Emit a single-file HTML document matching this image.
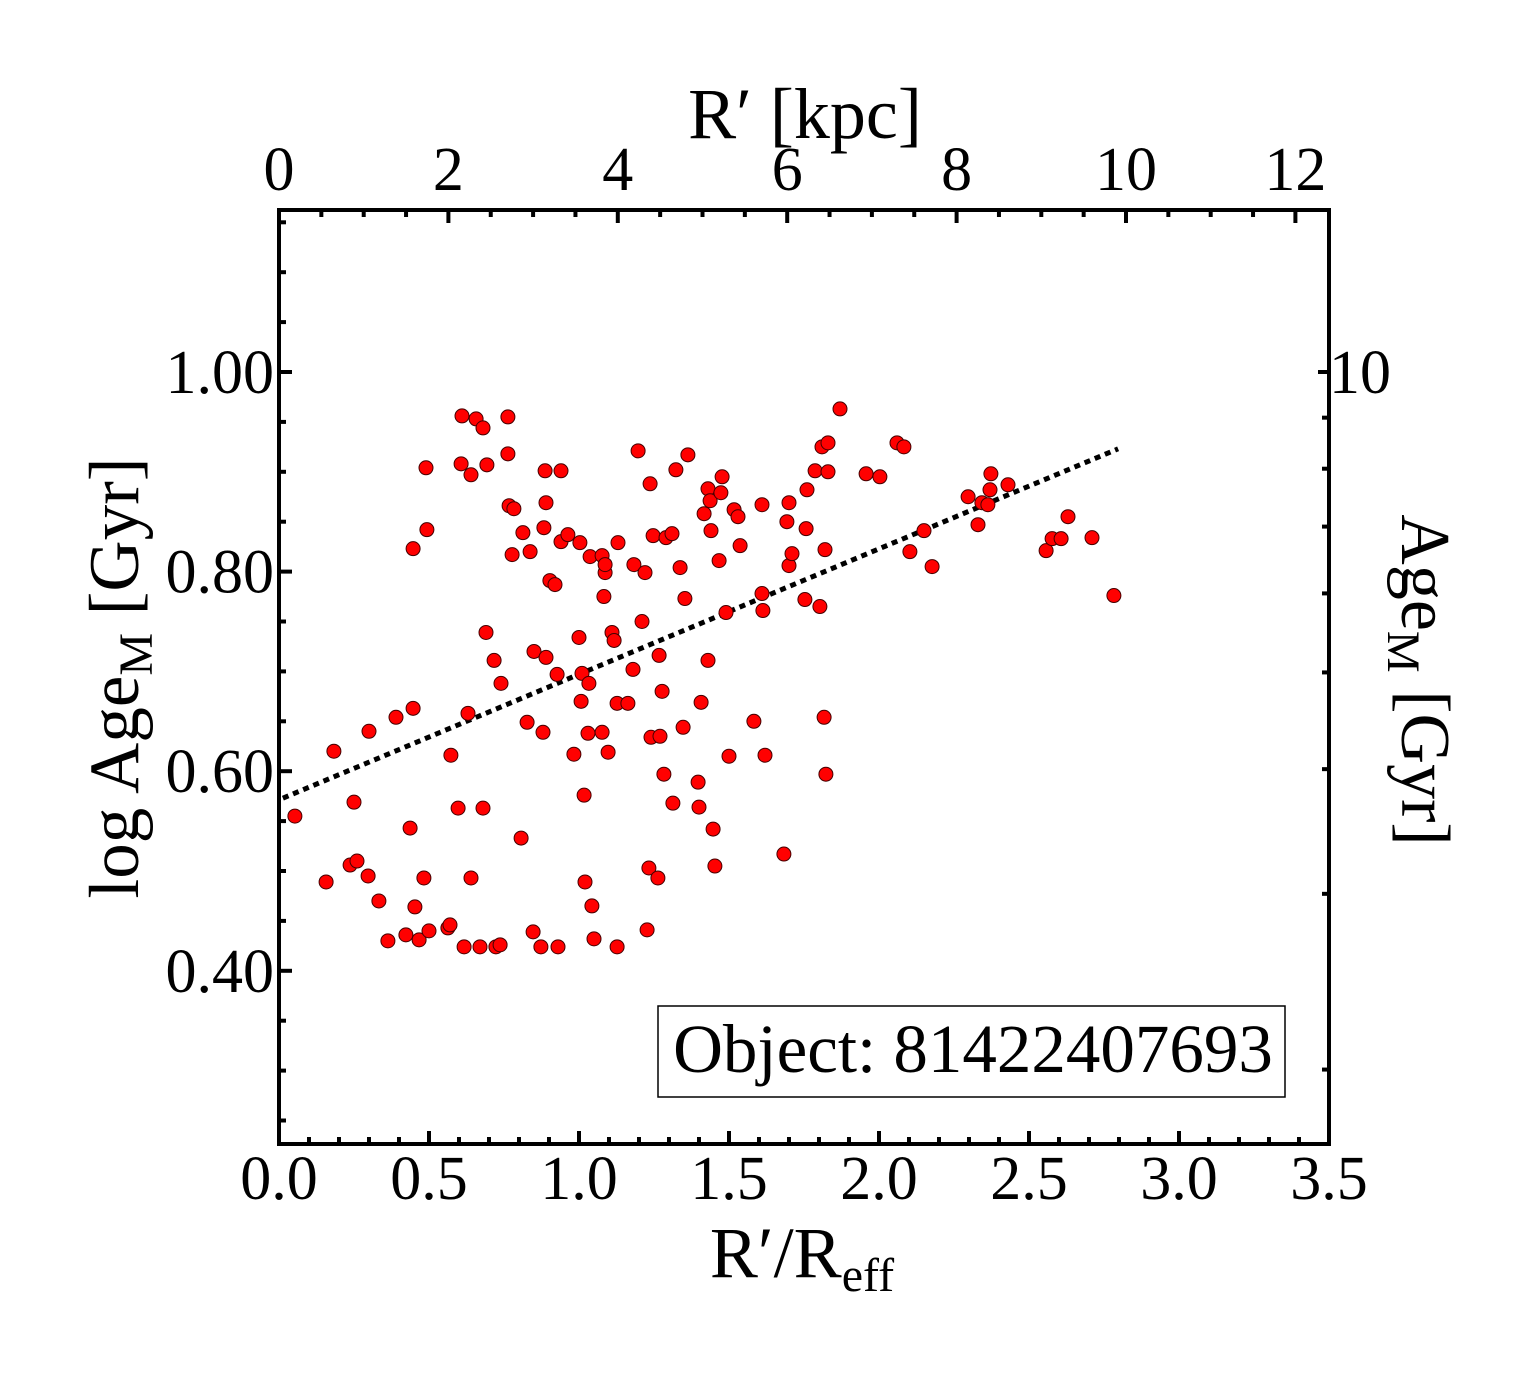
<!DOCTYPE html>
<html><head><meta charset="utf-8">
<style>
html,body{margin:0;padding:0;background:#fff;}
svg{display:block;font-family:"Liberation Serif",serif;}
</style></head>
<body>
<svg id="chart" width="1540" height="1375" viewBox="0 0 1540 1375" xmlns="http://www.w3.org/2000/svg">
<rect x="0" y="0" width="1540" height="1375" fill="#fff"/>
<g id="marks"></g>
<g id="axes"></g>
<text x="805" y="138" font-size="72" text-anchor="middle">R′ [kpc]</text>
<text x="802" y="1277" font-size="72" text-anchor="middle">R′/R<tspan font-size="48" dy="14">eff</tspan></text>
<text transform="translate(138,678) rotate(-90)" font-size="71" text-anchor="middle">log Age<tspan font-size="48" dy="14">M</tspan><tspan dy="-14"> [Gyr]</tspan></text>
<text transform="translate(1402,680) rotate(90)" font-size="70" text-anchor="middle">Age<tspan font-size="47" dy="14">M</tspan><tspan dy="-14"> [Gyr]</tspan></text>
<g>
<rect x="658" y="1006" width="627" height="91" fill="#fff" stroke="#000" stroke-width="1.5"/>
<text x="973" y="1072" font-size="69" text-anchor="middle">Object: 81422407693</text>
</g>
</svg>
<script>
const xVals=[0.053,0.157,0.183,0.237,0.250,0.260,0.297,0.300,0.333,0.363,0.390,0.423,0.437,0.447,0.447,0.453,0.467,0.483,0.490,0.493,0.500,0.563,0.570,0.573,0.597,0.607,0.610,0.617,0.630,0.640,0.640,0.657,0.670,0.680,0.680,0.693,0.690,0.717,0.723,0.737,0.740,0.763,0.763,0.767,0.777,0.783,0.807,0.813,0.827,0.837,0.847,0.850,0.873,0.880,0.883,0.887,0.890,0.890,0.903,0.920,0.927,0.930,0.940,0.940,0.963,0.983,1.000,1.003,1.007,1.010,1.017,1.020,1.030,1.033,1.043,1.050,1.037,1.077,1.077,1.083,1.087,1.087,1.097,1.110,1.117,1.127,1.127,1.130,1.163,1.180,1.183,1.197,1.210,1.220,1.227,1.233,1.237,1.240,1.247,1.270,1.263,1.267,1.277,1.283,1.290,1.313,1.310,1.323,1.337,1.347,1.353,1.363,1.397,1.400,1.407,1.417,1.430,1.430,1.437,1.440,1.447,1.453,1.467,1.473,1.477,1.490,1.500,1.517,1.530,1.537,1.583,1.610,1.610,1.613,1.620,1.683,1.693,1.700,1.700,1.710,1.753,1.757,1.760,1.787,1.803,1.810,1.817,1.820,1.823,1.830,1.830,1.870,1.957,2.003,2.060,2.083,2.103,2.150,2.177,2.297,2.330,2.343,2.363,2.370,2.373,2.430,2.557,2.577,2.607,2.630,2.710,2.783];
const yVals=[0.555,0.489,0.620,0.506,0.569,0.510,0.495,0.640,0.470,0.430,0.654,0.436,0.543,0.823,0.663,0.464,0.431,0.493,0.904,0.842,0.440,0.443,0.446,0.616,0.563,0.908,0.956,0.424,0.658,0.493,0.897,0.953,0.424,0.944,0.563,0.907,0.739,0.711,0.424,0.426,0.688,0.918,0.955,0.866,0.817,0.863,0.533,0.839,0.649,0.820,0.439,0.720,0.424,0.639,0.844,0.901,0.869,0.714,0.791,0.787,0.697,0.424,0.830,0.901,0.837,0.617,0.734,0.829,0.670,0.698,0.576,0.489,0.638,0.688,0.465,0.432,0.815,0.816,0.639,0.775,0.799,0.807,0.619,0.739,0.731,0.668,0.424,0.829,0.668,0.702,0.807,0.921,0.750,0.799,0.441,0.503,0.888,0.634,0.836,0.635,0.493,0.716,0.680,0.597,0.834,0.568,0.838,0.902,0.804,0.644,0.773,0.917,0.589,0.564,0.669,0.858,0.711,0.883,0.871,0.841,0.542,0.505,0.811,0.879,0.895,0.759,0.615,0.862,0.855,0.826,0.650,0.867,0.778,0.761,0.616,0.517,0.850,0.869,0.806,0.818,0.772,0.843,0.882,0.901,0.765,0.925,0.654,0.822,0.597,0.929,0.900,0.963,0.898,0.895,0.929,0.925,0.820,0.841,0.805,0.875,0.847,0.869,0.867,0.882,0.898,0.887,0.821,0.833,0.833,0.855,0.834,0.776];
const fitX=[0.013,2.797];
const fitY=[0.573,0.923];
const bottomTicks=["0.0","0.5","1.0","1.5","2.0","2.5","3.0","3.5"];
const topTicks=["0","2","4","6","8","10","12"];
const leftTicks=["0.40","0.60","0.80","1.00"];
const rightMinor=[2,3,4,5,6,7,8,9];

const L=279,R=1329,T=210,B=1144;
const sx=v=>L+v*300;
const sy=v=>372+(1-v)*998;
const sk=v=>L+v*84.7;
const NS="http://www.w3.org/2000/svg";
function mk(tag,attrs,parent){const e=document.createElementNS(NS,tag);for(const k in attrs)e.setAttribute(k,attrs[k]);parent.appendChild(e);return e;}
const marks=document.getElementById('marks');
const axes=document.getElementById('axes');

const fl=mk('line',{x1:sx(fitX[0]),y1:sy(fitY[0]),x2:sx(fitX[1]),y2:sy(fitY[1]),stroke:'#000','stroke-width':5,'stroke-dasharray':'6 5'},marks);



for(let i=0;i<xVals.length;i++){
  const c=mk('circle',{cx:sx(xVals[i]),cy:sy(yVals[i]),r:7,fill:'#ff0000',stroke:'#400','stroke-width':1},marks);
  
  
}

const fr=mk('rect',{x:L,y:T,width:R-L,height:B-T,fill:'none',stroke:'#000','stroke-width':4},axes);



for(let k=0;k<=35;k++){
  const v=k/10,x=sx(v),maj=k%5===0;
  mk('line',{x1:x,y1:B,x2:x,y2:B-(maj?13:7),stroke:'#000','stroke-width':4},axes);
}
bottomTicks.forEach(t=>{
  const el=mk('text',{x:sx(parseFloat(t)),y:B+55,'font-size':62,'text-anchor':'middle'},axes);
  el.textContent=t;
  
  
});
for(let k=0;k<=24;k++){
  const v=k/2,x=sk(v),maj=k%4===0;
  if(x>R)break;
  mk('line',{x1:x,y1:T,x2:x,y2:T+(maj?13:7),stroke:'#000','stroke-width':4},axes);
}
topTicks.forEach(t=>{
  const el=mk('text',{x:sk(parseFloat(t)),y:T-20,'font-size':62,'text-anchor':'middle'},axes);
  el.textContent=t;
  
  
});
for(let k=5;k<=23;k++){
  const v=k/20,y=sy(v),maj=k%4===0;
  if(y>B||y<T)continue;
  mk('line',{x1:L,y1:y,x2:L+(maj?13:7),y2:y,stroke:'#000','stroke-width':4},axes);
}
leftTicks.forEach(t=>{
  const el=mk('text',{x:L-5,y:sy(parseFloat(t))+21,'font-size':62,'text-anchor':'end'},axes);
  el.textContent=t;
  
  
});
rightMinor.forEach(a=>{
  const y=sy(Math.log10(a));
  mk('line',{x1:R,y1:y,x2:R-7,y2:y,stroke:'#000','stroke-width':4},axes);
});
mk('line',{x1:R,y1:sy(1),x2:R-11,y2:sy(1),stroke:'#000','stroke-width':4},axes);
const rl=mk('text',{x:R,y:sy(1)+21,'font-size':62},axes);
rl.textContent='10';


</script>
</body></html>
